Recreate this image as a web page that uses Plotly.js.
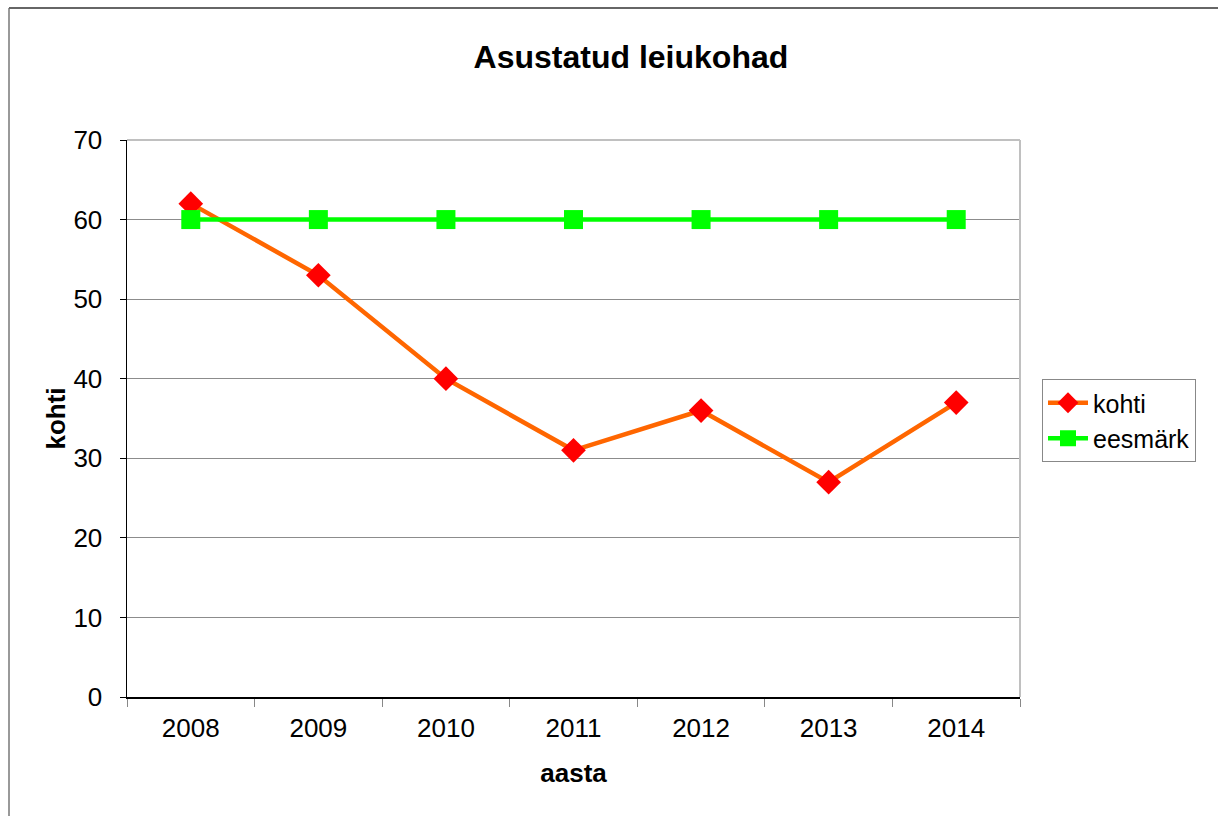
<!DOCTYPE html>
<html>
<head>
<meta charset="utf-8">
<script src="https://cdn.plot.ly/plotly-3.0.1.min.js"></script>
<style>html,body{margin:0;padding:0;background:#fff;}#chart{width:1218px;height:816px;}</style>
</head>
<body>
<div id="chart"></div>
<script>
const years = ['2008','2009','2010','2011','2012','2013','2014'];
const kohti = [62, 53, 40, 31, 36, 27, 37];
const eesmark = [60, 60, 60, 60, 60, 60, 60];
const yTicks = [0, 10, 20, 30, 40, 50, 60, 70];

const font = 'Liberation Sans, Arial, sans-serif';
const L = 127, R = 1020, T = 140, B = 697;
const px = x => (x - L) / (R - L);
const py = y => (B - y) / (B - T);

const traces = [
  {x: years, y: kohti, name: 'kohti', type: 'scatter', mode: 'lines+markers',
   line: {color: '#FF6600', width: 4.5},
   marker: {symbol: 'diamond', color: '#FF0000', size: 19}},
  {x: years, y: eesmark, name: 'eesmärk', type: 'scatter', mode: 'lines+markers',
   line: {color: '#00FF00', width: 4.5},
   marker: {symbol: 'square', color: '#00FF00', size: 19}}
];

const layout = {
  width: 1218, height: 816,
  margin: {l: L, r: 1218 - R, t: T, b: 816 - B},
  paper_bgcolor: '#fff', plot_bgcolor: '#fff',
  font: {family: font, size: 26, color: '#000'},
  title: {text: '<b>Asustatud leiukohad</b>', font: {size: 32, family: font, color: '#000'},
          x: 0.518, xanchor: 'center', y: 1 - 57/816, yanchor: 'middle'},
  xaxis: {type: 'category', range: [-0.5, 6.5], tickson: 'boundaries',
          ticks: 'outside', ticklen: 8, tickcolor: '#888', tickwidth: 1,
          showline: true, linecolor: '#000', linewidth: 1.5, showgrid: false,
          tickfont: {size: 26}, fixedrange: true, ticklabelstandoff: 7,
          title: {text: '<b>aasta</b>', font: {size: 26}, standoff: 22}},
  yaxis: {range: [0, 70], tickvals: yTicks, ticks: 'outside', ticklen: 6, tickcolor: '#000',
          showline: true, linecolor: '#000', linewidth: 1.5,
          showgrid: true, gridcolor: '#8c8c8c', gridwidth: 1, zeroline: false,
          tickfont: {size: 26}, fixedrange: true, ticklabelstandoff: 12,
          title: {text: '<b>kohti</b>', font: {size: 26}, standoff: 0}},
  legend: {x: px(1042), y: py(379), xanchor: 'left', yanchor: 'top',
           bordercolor: '#888', borderwidth: 1, bgcolor: '#fff',
           font: {size: 25}, tracegroupgap: 0, itemwidth: 40},
  showlegend: true,
  shapes: [
    {type: 'line', xref: 'paper', yref: 'paper', x0: 1, x1: 1, y0: 0, y1: 1,
     line: {color: '#c0c0c0', width: 2}},
    {type: 'line', xref: 'paper', yref: 'paper', x0: 0, x1: 1, y0: 1, y1: 1,
     line: {color: '#c0c0c0', width: 2}},
    {type: 'line', xref: 'paper', yref: 'paper', x0: px(9), x1: px(9), y0: py(8), y1: py(830),
     line: {color: '#999', width: 2}},
    {type: 'line', xref: 'paper', yref: 'paper', x0: px(9), x1: px(1230), y0: py(8), y1: py(8),
     line: {color: '#666', width: 2}}
  ]
};

Plotly.newPlot('chart', traces, layout, {displayModeBar: false, staticPlot: true});
</script>
</body>
</html>
